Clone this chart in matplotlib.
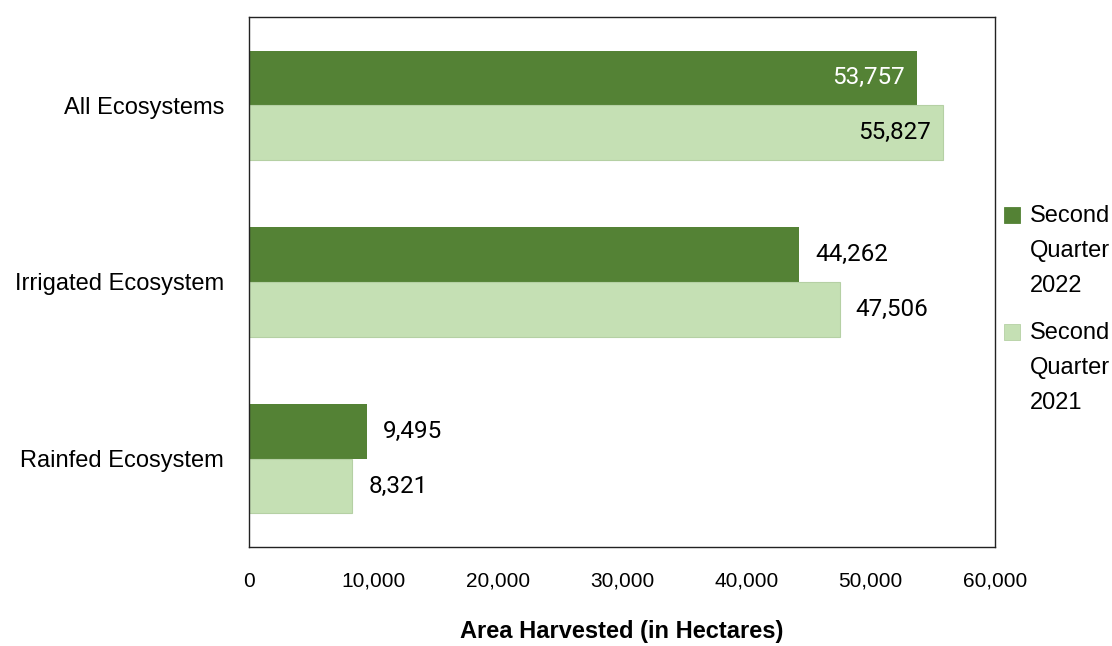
import matplotlib
matplotlib.use("Agg")
import matplotlib.pyplot as plt
from matplotlib.patches import Rectangle
import numpy as np
from matplotlib.ticker import FuncFormatter

categories = ["All Ecosystems", "Irrigated Ecosystem", "Rainfed Ecosystem"]
q2_2022 = [53757, 44262, 9495]
q2_2021 = [55827, 47506, 8321]
series_labels = ["Second\nQuarter\n2022", "Second\nQuarter\n2021"]

dark = "#548235"
light = "#c5e0b4"

plt.rcParams["font.family"] = ["Liberation Sans", "DejaVu Sans"]

fig = plt.figure(figsize=(11.12, 6.46), dpi=100)
ax = fig.add_axes([0.2239, 0.1533, 0.6709, 0.8204])

y = np.arange(len(categories))
h = 0.31
b1 = ax.barh(y - h / 2, q2_2022, height=h, color=dark)
b2 = ax.barh(y + h / 2, q2_2021, height=h, color=light, edgecolor="#b5d0a4",
             linewidth=0.8)

ax.set_ylim(2.5, -0.5)
ax.set_xlim(0, 60000)
ax.set_xticks(np.arange(0, 60001, 10000))
ax.xaxis.set_major_formatter(FuncFormatter(lambda v, p: f"{int(v):,}"))
ax.set_yticks(y)
ax.set_yticklabels(categories)
ax.tick_params(axis="both", length=0)
ax.tick_params(axis="x", pad=18, labelsize=15)
ax.tick_params(axis="y", pad=18, labelsize=17)
ax.set_xlabel("Area Harvested (in Hectares)", fontsize=17, fontweight="bold", labelpad=21)

for s in ax.spines.values():
    s.set_color("#222222")
    s.set_linewidth(1.0)

# value labels
lab_kw = dict(va="center", fontsize=17.5, family=["Roboto", "DejaVu Sans"])
for vals, off in ((q2_2022, -h / 2), (q2_2021, h / 2)):
    for i, v in enumerate(vals):
        inside = v > 50000
        col = "white" if (inside and vals is q2_2022) else "black"
        if inside:
            ax.text(v - 1000, y[i] + off, f"{v:,}", ha="right", color=col, **lab_kw)
        else:
            ax.text(v + 1300, y[i] + off, f"{v:,}", ha="left", color=col, **lab_kw)

# legend, marker aligned with the first text line
leg_colors = [dark, light]
leg_tops = [0.667, 0.486]
for c, lab, yy in zip(leg_colors, series_labels, leg_tops):
    fig.patches.append(Rectangle((0.9025, yy - 0.012), 0.0144, 0.0248,
                                 transform=fig.transFigure, facecolor=c,
                                 edgecolor="#b5d0a4" if c == light else c, linewidth=0.6))
    fig.text(0.9262, yy + 0.0155, lab, ha="left", va="top", fontsize=17,
             linespacing=1.75)

fig.savefig("out.png", dpi=100, facecolor="white")
